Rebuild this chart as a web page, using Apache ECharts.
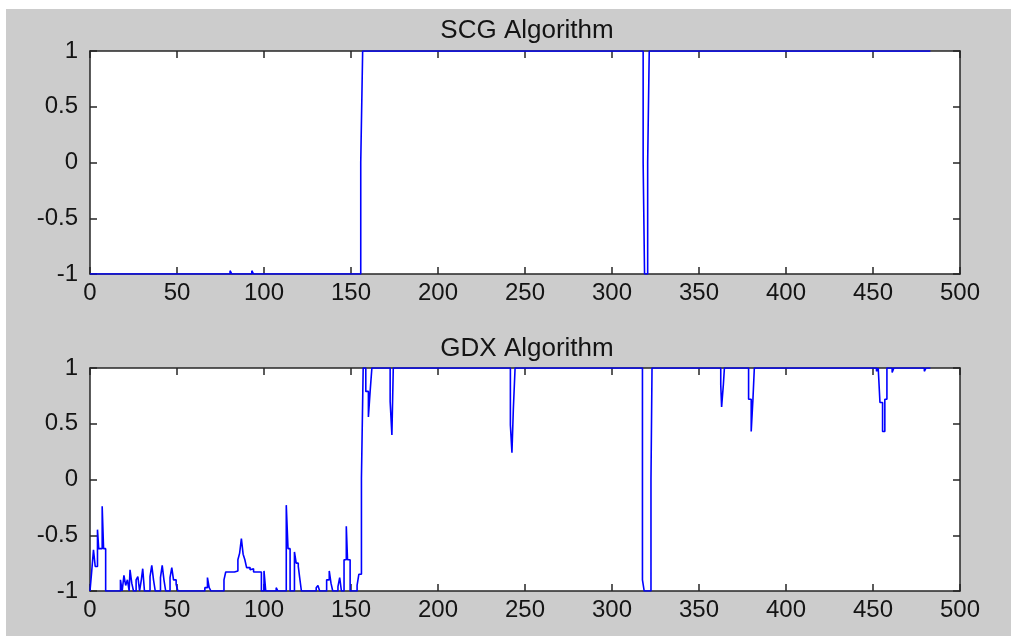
<!DOCTYPE html>
<html>
<head>
<meta charset="utf-8">
<script src="https://cdn.jsdelivr.net/npm/echarts@6/dist/echarts.min.js"></script>
<style>
html,body{margin:0;padding:0;background:#ffffff;}
#chart{width:1011px;height:636px;}
</style>
</head>
<body>
<div id="chart"></div>
<script>
// ---- data (breakpoints: [sample index, value held from that index]) ----
const titles = ['SCG Algorithm', 'GDX Algorithm'];
const xTicks = [0, 50, 100, 150, 200, 250, 300, 350, 400, 450, 500];
const yTicks = [-1, -0.5, 0, 0.5, 1];

const scgX = [0, 80.5, 81.5, 93, 94, 155.6, 156.7, 317.9, 318.7, 320.5, 321.4, 483];
const scgY = [-1, -0.97, -1, -0.97, -1, 0, 1, 0, -1, 0, 1, 1];

const gdxX = [0, 1, 2, 3, 4.3, 5, 7, 7.8, 9,
  17.5, 18.5, 19.5, 20.5, 21.5, 22.5, 23, 24, 25, 26.5, 27.5, 28.5, 29.5, 30.3, 31.3,
  34.5, 35.5, 36.5, 37.5, 40.5, 41.5, 42.5, 43.5, 46, 47, 48, 49.5, 50.5,
  66, 67.5, 68.5, 69.5,
  77, 78, 83, 85, 86, 87, 88, 89, 90, 92, 93, 94, 98.5, 100, 101,
  107, 108,
  112.8, 113.8, 115, 117.5, 118.5, 119.7, 120.5, 121.5,
  130, 131, 132, 136, 137.5, 138.5, 139.5, 142.5, 143.5, 144.5, 146, 147.3, 148, 149.5,
  153.5, 154.5, 156, 157, 158.5, 160, 161, 162,
  172.5, 173.5, 174.3,
  241.6, 242.5, 243.3, 244.3,
  317.5, 318.5, 322.4, 323,
  362.5, 363, 364, 364.6,
  378.5, 380, 381, 381.8,
  452, 453, 454, 455.5, 456.8, 458,
  461, 462,
  479.5, 480.5, 483];
const gdxY = [-1, -0.82, -0.63, -0.78, -0.45, -0.62, -0.24, -0.62, -1,
  -0.9, -1, -0.86, -0.95, -0.9, -1, -0.81, -0.93, -1, -0.9, -0.87, -1, -0.9, -0.8, -1,
  -0.87, -0.77, -0.9, -1, -0.88, -0.77, -0.9, -1, -0.88, -0.79, -0.9, -0.94, -1,
  -0.97, -0.88, -0.97, -1,
  -0.9, -0.83, -0.82, -0.72, -0.66, -0.53, -0.67, -0.72, -0.79, -0.81, -0.8, -0.83, -1, -0.82, -1,
  -0.97, -1,
  -0.23, -0.62, -1, -0.65, -0.75, -0.78, -0.88, -1,
  -0.97, -0.95, -1, -0.9, -0.82, -0.93, -1, -0.96, -0.88, -1, -0.72, -0.42, -0.72, -1,
  -0.95, -0.85, 0.01, 1, 0.79, 0.56, 0.79, 1,
  0.7, 0.4, 1,
  0.49, 0.24, 0.63, 1,
  -0.9, -1, 0, 1,
  0.85, 0.65, 0.85, 1,
  0.72, 0.43, 0.72, 1,
  0.97, 1, 0.69, 0.43, 0.72, 1,
  0.96, 1,
  0.97, 1, 1];

// value is held from each breakpoint until the next one (stairs)
function stairs(xs, ys) {
  const out = [];
  xs.forEach((x, i) => {
    if (i > 0) out.push([x, ys[i - 1]]);
    out.push([x, ys[i]]);
  });
  return out;
}

const FONT = 'Arial, "Liberation Sans", sans-serif';
const TXT = '#141414';
const AX = '#262626';
const gridTops = [51, 368];

const grids = gridTops.map(t => ({left: 90, top: t, width: 870, height: 223, show: true,
  backgroundColor: '#ffffff', borderWidth: 0}));

const xAxes = [], yAxes = [];
function axisCommon() {
  return {
    axisLine: {show: true, onZero: false, lineStyle: {color: AX, width: 1.5}},
    axisTick: {show: true, inside: true, length: 7, lineStyle: {color: AX, width: 1.5}},
    splitLine: {show: false}
  };
}
[0, 1].forEach(g => {
  xAxes.push(Object.assign(axisCommon(), {type: 'value', gridIndex: g, position: 'bottom',
    min: xTicks[0], max: xTicks[xTicks.length - 1], interval: xTicks[1] - xTicks[0],
    axisLabel: {show: true, color: TXT, fontFamily: FONT, fontSize: 24, margin: 7}}));
  xAxes.push(Object.assign(axisCommon(), {type: 'value', gridIndex: g, position: 'top',
    min: xTicks[0], max: xTicks[xTicks.length - 1], interval: xTicks[1] - xTicks[0],
    axisLabel: {show: false}}));
  yAxes.push(Object.assign(axisCommon(), {type: 'value', gridIndex: g, position: 'left',
    min: yTicks[0], max: yTicks[yTicks.length - 1], interval: yTicks[1] - yTicks[0],
    axisLabel: {show: true, color: TXT, fontFamily: FONT, fontSize: 24, margin: 12}}));
  yAxes.push(Object.assign(axisCommon(), {type: 'value', gridIndex: g, position: 'right',
    min: yTicks[0], max: yTicks[yTicks.length - 1], interval: yTicks[1] - yTicks[0],
    axisLabel: {show: false}}));
});

const chart = echarts.init(document.getElementById('chart'), null, {renderer: 'canvas'});
chart.setOption({
  animation: false,
  backgroundColor: '#ffffff',
  graphic: [{type: 'rect', z: -100, silent: true, shape: {x: 6, y: 9, width: 1005, height: 627},
    style: {fill: '#cccccc'}}],
  title: titles.map((t, i) => ({text: t, left: 522, top: i === 0 ? 13 : 331, textAlign: 'center',
    textStyle: {color: TXT, fontFamily: FONT, fontSize: 26, fontWeight: 'normal'}})),
  grid: grids,
  xAxis: xAxes,
  yAxis: yAxes,
  series: [
    {type: 'line', xAxisIndex: 0, yAxisIndex: 0, showSymbol: false, symbol: 'none',
      data: stairs(scgX, scgY), lineStyle: {color: '#0000ff', width: 1.6}, z: 5},
    {type: 'line', xAxisIndex: 2, yAxisIndex: 2, showSymbol: false, symbol: 'none',
      data: stairs(gdxX, gdxY), lineStyle: {color: '#0000ff', width: 1.6}, z: 5}
  ]
});
</script>
</body>
</html>
